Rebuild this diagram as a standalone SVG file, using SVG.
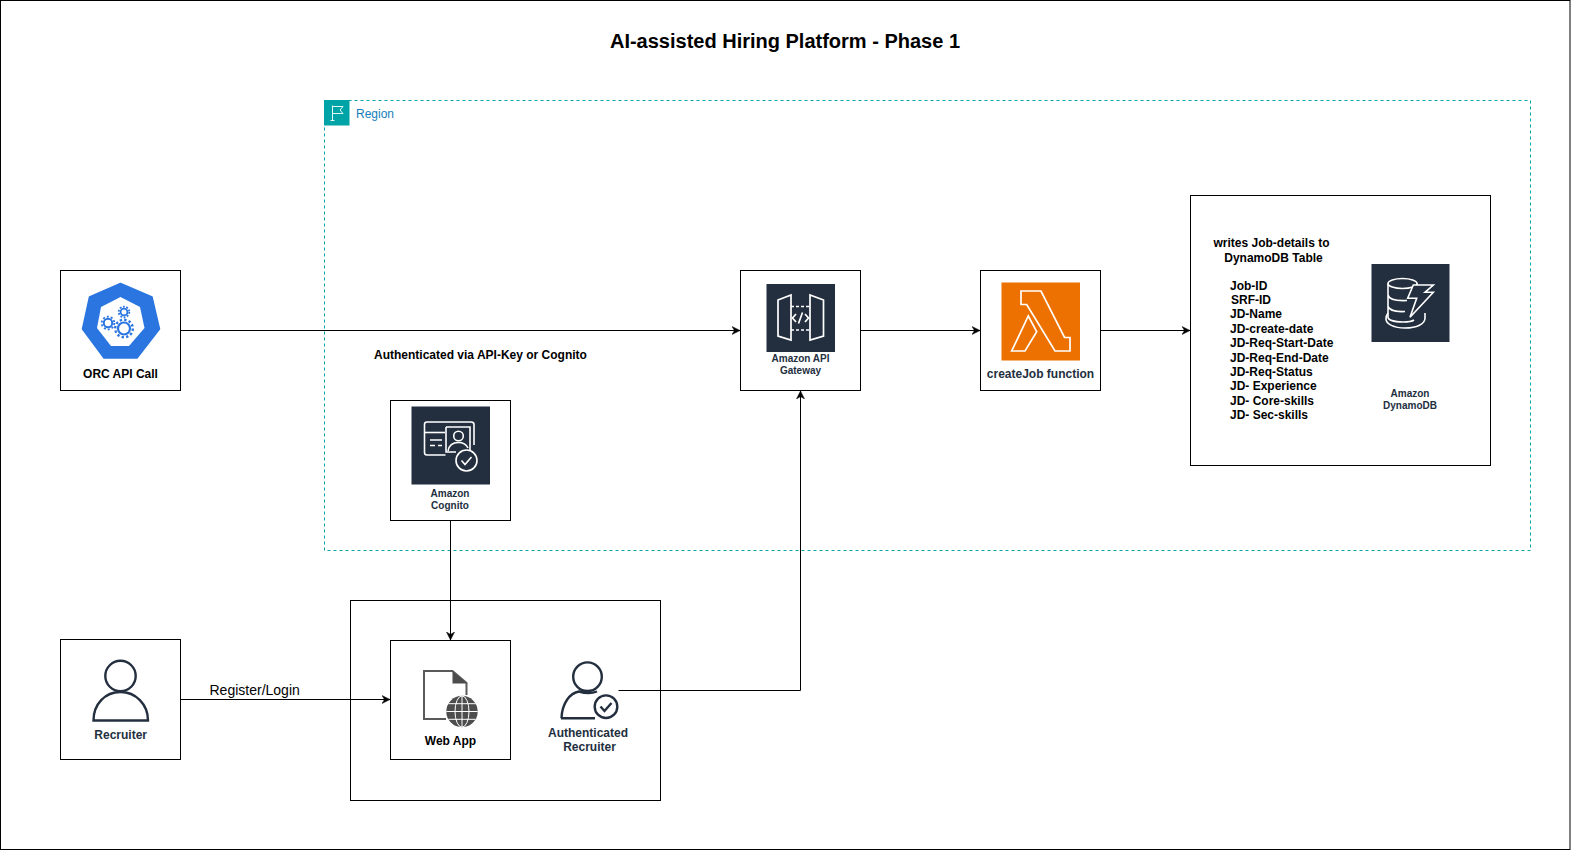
<svg xmlns="http://www.w3.org/2000/svg" width="1571" height="852" viewBox="0 0 1571 852">
<defs>
<style>
text{font-family:"Liberation Sans",Arial,sans-serif;font-size:12px;font-weight:700;fill:#000}
.c{text-anchor:middle}
.aws{fill:#232f3e}
.sm{font-size:10px}
.box{fill:#fff;stroke:#000;stroke-width:1}
.conn{fill:none;stroke:#000;stroke-width:1;marker-end:url(#arrow)}
.wl{fill:none;stroke:#fff;stroke-width:1.700;stroke-linejoin:miter}
.ink{fill:none;stroke:#232f3e;stroke-width:2.400}
.gear{fill:none;stroke:#2a75e0}
</style>
<marker id="arrow" markerUnits="userSpaceOnUse" markerWidth="10" markerHeight="10" refX="8" refY="4.500" orient="auto">
<path d="M0,0.500 L8,4.500 L0,8.500 L2.500,4.500 Z" fill="#000" stroke="#000" stroke-width="0.500"/>
</marker>
</defs>
<rect width="1571" height="852" fill="#fff"/>
<rect id="frame" x="0.500" y="0.500" width="1569.500" height="849" fill="none" stroke="#000"/>
<text id="title" class="c" x="785" y="48" style="font-size:20px">AI-assisted Hiring Platform - Phase 1</text>

<g id="region">
<rect x="324.500" y="100.500" width="1206" height="450" fill="none" stroke="#00a4a6" stroke-dasharray="3 3"/>
<rect x="324" y="100" width="25.500" height="25.500" fill="#00a4a6"/>
<path d="M332.500,105.500V120.500M330.500,120.500H334.500M332.500,106.500H343L340,110L343,113.500H332.500" fill="none" stroke="#fff" stroke-width="0.900"/>
<text x="356" y="117.500" style="font-weight:400;fill:#147eba">Region</text>
</g>

<g id="orc">
<rect class="box" x="60.500" y="270.500" width="120" height="120"/>
<path d="M120.500,283.500L152,297L159.500,329L137,358H104L82.500,329L89.500,297Z" fill="#2a75e0" stroke="#2a75e0" stroke-width="1.500" stroke-linejoin="round"/>
<path d="M120.500,297L140,307L144.500,328L129,346H111L97,328L101,307Z" fill="#fff"/>
<circle class="gear" cx="108" cy="323" r="4.200" stroke-width="2"/>
<circle class="gear" cx="108" cy="323" r="6.300" stroke-width="1.800" stroke-dasharray="2 1.960"/>
<circle class="gear" cx="124" cy="328.500" r="6" stroke-width="2.200"/>
<circle class="gear" cx="124" cy="328.500" r="8.800" stroke-width="2.400" stroke-dasharray="2.400 2.200"/>
<circle class="gear" cx="124" cy="312" r="3.400" stroke-width="1.800"/>
<circle class="gear" cx="124" cy="312" r="5.300" stroke-width="1.800" stroke-dasharray="1.800 1.530"/>
<text class="c" x="120.500" y="377.500">ORC API Call</text>
</g>

<g id="api-gateway">
<rect class="box" x="740.500" y="270.500" width="120" height="120"/>
<rect x="766.500" y="284" width="68.500" height="68" fill="#232f3e"/>
<path class="wl" d="M778,300L791,295V340L778,336ZM823.500,300L810,295V340L823.500,336Z"/>
<path class="wl" d="M791,306.500H810M791,330H810" stroke-dasharray="3 2"/>
<path class="wl" d="M796,314L792.500,318L796,322M805,314L808.500,318L805,322M802.500,312.500L798.500,323.500"/>
<text class="c aws sm" x="800.500" y="361.500">Amazon API</text>
<text class="c aws sm" x="800.500" y="374">Gateway</text>
</g>

<g id="create-job">
<rect class="box" x="980.500" y="270.500" width="120" height="120"/>
<rect x="1001.500" y="282.500" width="78.500" height="78" fill="#ed7100"/>
<path class="wl" d="M1021,291H1041L1064.500,337.500H1070V351H1055L1026.700,304.500H1021ZM1028.300,316L1036.700,331.700L1025,351H1011.700Z"/>
<text class="c aws" x="1040.500" y="377.500">createJob function</text>
</g>

<g id="dynamodb">
<rect class="box" x="1190.500" y="195.500" width="300" height="270"/>
<rect x="1371.500" y="264" width="78" height="78" fill="#232f3e"/>
<g fill="none" stroke="#fff" stroke-width="1.600">
<ellipse cx="1402.500" cy="283.500" rx="14.500" ry="5"/>
<path d="M1388,283.500V317C1388,320 1394,322 1403,322C1408,322 1412,321.500 1414,320M1388,295C1389,299 1396,301 1407,300.500M1388,306C1389,310 1396,312 1405,311.500M1417,283.500V290"/>
<path d="M1388,313C1386.500,315 1386,316 1386,319C1386,324 1394,328 1405,328C1417,328 1425,324 1425,318V313"/>
<path d="M1413.300,285H1433.300L1425,292.300H1433.300L1410,317.300L1416.700,298.300H1407.700Z" fill="#232f3e"/>
</g>
<text class="c" x="1271.500" y="246.500">writes Job-details to</text>
<text class="c" x="1273.500" y="261.500">DynamoDB Table</text>
<text x="1230" y="289.500">Job-ID</text>
<text x="1231" y="303.700">SRF-ID</text>
<text x="1230" y="317.700">JD-Name</text>
<text x="1230" y="333">JD-create-date</text>
<text x="1230" y="346.700">JD-Req-Start-Date</text>
<text x="1230" y="362">JD-Req-End-Date</text>
<text x="1230" y="376">JD-Req-Status</text>
<text x="1230" y="389.700">JD- Experience</text>
<text x="1230" y="405">JD- Core-skills</text>
<text x="1230" y="418.700">JD- Sec-skills</text>
<text class="c aws sm" x="1410" y="396.700">Amazon</text>
<text class="c aws sm" x="1410" y="408.500">DynamoDB</text>
</g>

<g id="cognito">
<rect class="box" x="390.500" y="400.500" width="120" height="120"/>
<rect x="411.500" y="406.500" width="78.500" height="78" fill="#232f3e"/>
<g fill="none" stroke="#fff" stroke-width="1.600">
<path d="M445.500,455H427Q424.500,455 424.500,452.500V424.500Q424.500,422 427,422H471Q474,422 474,424.500V445"/>
<path d="M424.500,432.500H445"/>
<path d="M446,427H470V450M446,427V452H456"/>
<circle cx="458.500" cy="436" r="4.800"/>
<path d="M448,451C449,445 453,442.500 458.500,442.500C463,442.500 466,444 468,448"/>
<path d="M430,440H442M430,445.500H435M438,445.500H442"/>
<circle cx="466.500" cy="460.500" r="10.500"/>
<path d="M461.500,460.500L465,464.500L471.500,457"/>
</g>
<text class="c aws sm" x="450" y="496.500">Amazon</text>
<text class="c aws sm" x="450" y="508.500">Cognito</text>
</g>

<g id="webapp-container">
<rect class="box" x="350.500" y="600.500" width="310" height="200"/>
</g>

<g id="web-app">
<rect class="box" x="390.500" y="640.500" width="120" height="119"/>
<path d="M466.500,695V683L452.500,671H424V719H446" fill="none" stroke="#5a5a5a" stroke-width="2"/>
<path d="M452.500,671L467,683.500H452.500Z" fill="#4d4d4d"/>
<circle cx="462" cy="711.500" r="15.700" fill="#4d4d4d"/>
<g fill="none" stroke="#fff" stroke-width="1">
<ellipse cx="462" cy="711.500" rx="7" ry="15.700"/>
<path d="M462,695.800V727.200M446.300,711.500H477.700M448.300,703.700H475.700M448.300,719.300H475.700"/>
</g>
<text class="c" x="450.500" y="744.500">Web App</text>
</g>

<g id="authenticated-recruiter">
<circle class="ink" cx="587.500" cy="676.700" r="14.300"/>
<path class="ink" d="M561.500,718.300C562,703 570,693 579,691.500C586,693.500 593,693 597,691.500"/>
<path class="ink" d="M561,718.300H595"/>
<circle class="ink" cx="606" cy="706.700" r="11.300"/>
<path class="ink" d="M600.500,706.500L604.500,711L611.500,703"/>
<text class="c aws" x="588" y="737">Authenticated</text>
<text class="c aws" x="589.500" y="751">Recruiter</text>
</g>

<g id="recruiter">
<rect class="box" x="60.500" y="639.500" width="120" height="120"/>
<circle class="ink" cx="120.500" cy="676" r="15.200"/>
<path class="ink" d="M93.500,720.500C93.500,704 105,692 120.500,692C135.500,692 148,704 148,720.500Z"/>
<text class="c aws" x="120.700" y="738.500">Recruiter</text>
</g>

<g id="connectors">
<path class="conn" d="M180.500,330.500H740"/>
<path class="conn" d="M860.500,330.500H980"/>
<path class="conn" d="M1100.500,330.500H1190"/>
<path class="conn" d="M450.500,520.500V640"/>
<path class="conn" d="M180.500,699.500H390"/>
<path class="conn" d="M618.500,690.500H800.500V391"/>
<text x="374" y="359">Authenticated via API-Key or Cognito</text>
<text x="209.500" y="694.500" style="font-size:14px;font-weight:400">Register/Login</text>
</g>
</svg>
